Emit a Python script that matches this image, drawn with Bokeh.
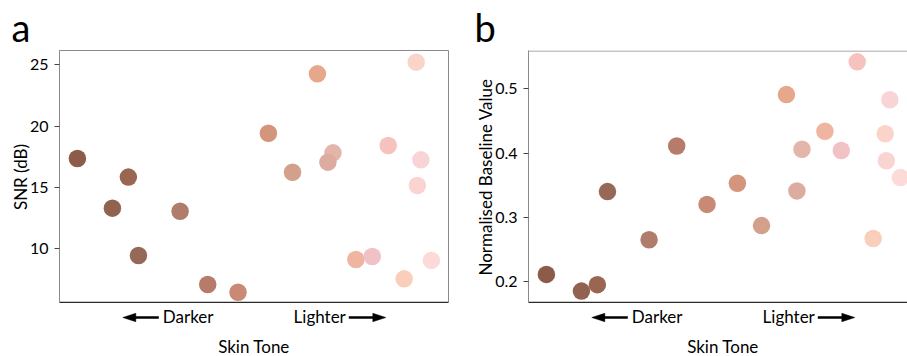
import math
from bokeh.plotting import figure
from bokeh.layouts import row, column
from bokeh.models import FixedTicker, Range1d, ColumnDataSource
from bokeh.core.properties import value
from bokeh.embed import file_html
from bokeh.resources import INLINE

# Skin-tone position along the x axis (darker -> lighter), shared by both panels
tone_x = [4.6, 13.6, 17.7, 20.3, 31.0, 38.1, 45.9, 53.7, 59.9, 66.3,
          70.3, 69.0, 76.2, 80.4, 84.5, 88.6, 91.7, 92.9, 92.0, 95.6]
tone_colors = ["#8D5B49", "#916250", "#9A6551", "#956858", "#B07C6C",
               "#B67B69", "#C88A74", "#D4957D", "#D3A08B", "#E7A78A",
               "#E4B6AB", "#DBAC9F", "#F0B5A1", "#F0C1C5", "#F6C2BD",
               "#F9CEBA", "#FAD4C8", "#F9D4D6", "#FAD4D0", "#FBDAD8"]
# Panel a: SNR (dB)
snr_db = [17.36, 13.31, 15.84, 9.45, 13.06, 7.09, 6.46, 19.42, 16.24, 24.26,
          17.82, 17.06, 9.13, 9.37, 18.42, 7.55, 25.21, 17.25, 15.16, 9.05]
# Panel b: normalised baseline value
baseline = [0.211, 0.185, 0.195, 0.340, 0.265, 0.411, 0.320, 0.353, 0.287, 0.491,
            0.406, 0.341, 0.434, 0.404, 0.542, 0.267, 0.430, 0.483, 0.388, 0.362]

snr_ticks = [10, 15, 20, 25]
base_ticks = [0.2, 0.3, 0.4, 0.5]
panel_letters = ["a", "b"]
y_labels = ["SNR (dB)", "Normalised Baseline Value"]
x_label = "Skin Tone"
dark_label = "Darker"
light_label = "Lighter"

FONT = "Lato"
TOP_H, MAIN_H, BOT_H = 50, 253, 53
PX = 3.89  # pixels per x unit (389 px frame for 0..100)


def clean(p):
    p.xgrid.visible = False
    p.ygrid.visible = False
    p.background_fill_color = "white"
    p.border_fill_color = "white"


def letter_strip(letter, width, dx):
    p = figure(width=width, height=TOP_H, output_backend="svg", toolbar_location=None,
               x_range=Range1d(0, width), y_range=Range1d(0, TOP_H),
               x_axis_location=None, y_axis_location=None,
               min_border=0)
    clean(p)
    p.outline_line_color = None
    p.text(x=[dx], y=[23.5], text=[letter], text_font=value(FONT), text_font_size="38px",
           text_align="left", text_baseline="middle", text_color="black")
    return p


def main_panel(yvals, yrange, yticks, ylabel, width, bl, br, xend, outline):
    p = figure(width=width, height=MAIN_H, output_backend="svg", toolbar_location=None,
               x_range=Range1d(0, xend), y_range=Range1d(*yrange),
               x_axis_location=None,
               min_border_left=bl, min_border_right=br,
               min_border_top=0, min_border_bottom=0)
    clean(p)
    p.outline_line_color = "#8a8a8a" if outline else None
    p.outline_line_width = 1

    ya = p.yaxis[0]
    ya.ticker = FixedTicker(ticks=yticks)
    ya.axis_label = ylabel
    ya.axis_label_text_font = FONT
    ya.axis_label_text_font_size = "17px"
    ya.axis_label_text_font_style = "normal"
    ya.axis_label_text_color = "black"
    ya.axis_label_standoff = -4
    ya.major_label_text_font = FONT
    ya.major_label_text_font_size = "16px"
    ya.major_label_text_color = "black"
    ya.major_label_standoff = 6
    ya.major_tick_in = 0
    ya.major_tick_out = 5
    ya.major_tick_line_color = "#444444"
    ya.minor_tick_line_color = None
    ya.axis_line_color = "#8a8a8a"
    ya.axis_line_width = 1

    src = ColumnDataSource(dict(x=tone_x, y=yvals, c=tone_colors))
    p.scatter("x", "y", source=src, size=17.5, fill_color="c", line_color=None)

    ylo, yhi = yrange
    s = (yhi - ylo) / MAIN_H
    # darker bottom axis line
    p.segment(x0=[0], y0=[ylo + 1.0 * s], x1=[xend], y1=[ylo + 1.0 * s],
              line_color="#2a2a2a", line_width=1.6)
    if not outline:
        p.segment(x0=[0], y0=[yhi - 0.5 * s], x1=[xend], y1=[yhi - 0.5 * s],
                  line_color="#8a8a8a", line_width=1)
    return p


def bottom_strip(width, bl, br, x_range):
    p = figure(width=width, height=BOT_H, output_backend="svg", toolbar_location=None,
               x_range=x_range, y_range=Range1d(0, BOT_H),
               x_axis_location=None, y_axis_location=None,
               min_border_left=bl, min_border_right=br, min_border_top=0, min_border_bottom=0)
    clean(p)
    p.outline_line_color = None
    ym = BOT_H - 13.0
    p.text(x=[103.3 / PX], y=[ym], text=[dark_label], text_font=value(FONT),
           text_font_size="17px", text_align="left", text_baseline="middle", text_color="black")
    p.text(x=[286.3 / PX], y=[ym], text=[light_label], text_font=value(FONT),
           text_font_size="17px", text_align="right", text_baseline="middle", text_color="black")
    p.text(x=[50], y=[BOT_H - 43.0], text=[x_label], text_font=value(FONT),
           text_font_size="17px", text_align="center", text_baseline="middle", text_color="black")
    # arrows: shaft + filled head
    head_len, head_half = 13 / PX, 4.2
    ya = BOT_H - 14.0
    lt, ltail = 63.3 / PX, 99.3 / PX
    rtail, rt = 289.3 / PX, 326.3 / PX
    p.segment(x0=[lt + head_len * 0.8, rtail], y0=[ya, ya],
              x1=[ltail, rt - head_len * 0.8], y1=[ya, ya],
              line_color="black", line_width=2.4)
    p.patches(xs=[[lt, lt + head_len, lt + head_len], [rt, rt - head_len, rt - head_len]],
              ys=[[ya, ya + head_half, ya - head_half], [ya, ya + head_half, ya - head_half]],
              fill_color="black", line_color="black", line_width=0.5)
    return p


XEND_B = 379 / PX

ta = letter_strip(panel_letters[0], 455, 11)
tb = letter_strip(panel_letters[1], 452, 19)
pa = main_panel(snr_db, (5.54, 26.16), snr_ticks, y_labels[0], 455, 59, 7, 100, True)
pb = main_panel(baseline, (0.1657, 0.5597), base_ticks, y_labels[1], 452, 73, 0, XEND_B, False)
ba = bottom_strip(455, 59, 7, pa.x_range)
bb = bottom_strip(452, 73, 0, pb.x_range)

layout = column(row(ta, tb), row(pa, pb), row(ba, bb))
open("out.html", "w").write(file_html(layout, INLINE))
